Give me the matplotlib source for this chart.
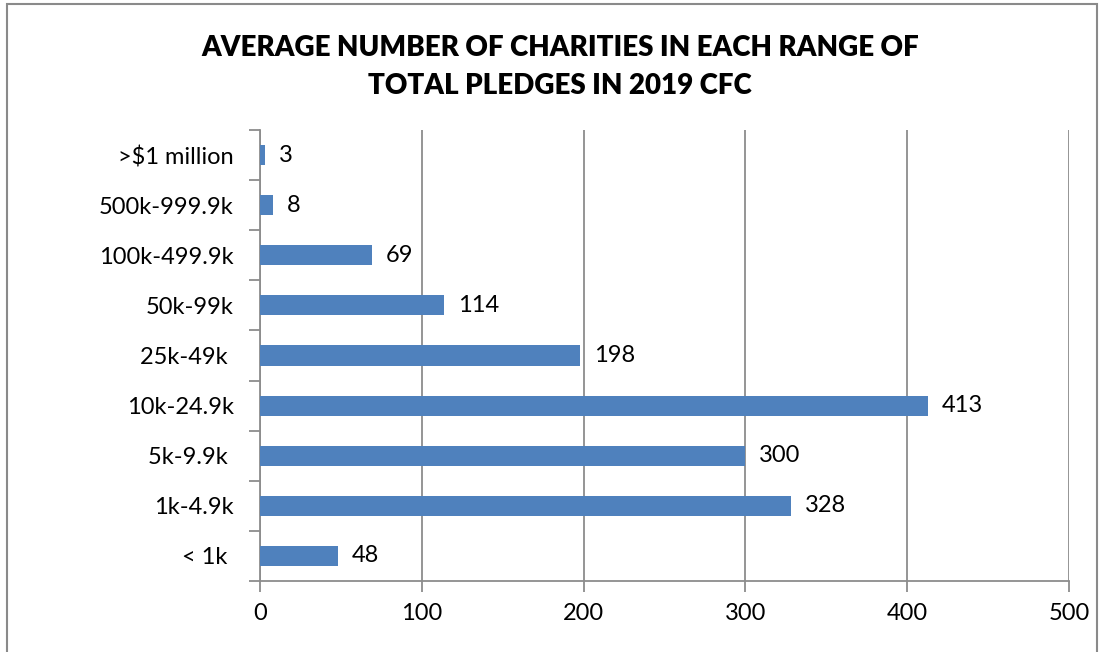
import matplotlib
matplotlib.use("Agg")
import matplotlib.pyplot as plt
from matplotlib.patches import Rectangle

categories = ["< 1k ", "1k-4.9k", "5k-9.9k ", "10k-24.9k", "25k-49k ", "50k-99k",
              "100k-499.9k", "500k-999.9k", ">$1 million"]
values = [48, 328, 300, 413, 198, 114, 69, 8, 3]
xticks = [0, 100, 200, 300, 400, 500]
title = "AVERAGE NUMBER OF CHARITIES IN EACH RANGE OF\nTOTAL PLEDGES IN 2019 CFC"

plt.rcParams['font.family'] = ['Lato', 'DejaVu Sans']

W, H = 1104, 652
fig = plt.figure(figsize=(W/100, H/100), dpi=100)
ax = fig.add_axes([260/W, 1-581/H, (1069-260)/W, (581-130)/H])

grid_col = "#8c8c8c"
fs = 17
ypos = list(range(len(categories)))
ax.barh(ypos, values, height=0.4, color="#4F81BD", zorder=3)
for y, v in zip(ypos, values):
    ax.annotate(str(v), (v, y), xytext=(10, 0), textcoords="offset points",
                va="center", ha="left", fontsize=fs, color="black")

ax.set_xlim(0, 500)
ax.set_ylim(-0.5, len(categories)-0.5)
ax.set_xticks(xticks)
ax.set_xticklabels([str(t) for t in xticks], fontsize=fs)
ax.set_yticks(ypos)
ax.set_yticklabels(categories, fontsize=fs)
ax.tick_params(axis='y', length=0, pad=19)
ax.set_yticks([i - 0.5 for i in range(len(categories)+1)], minor=True)
ax.tick_params(axis='y', which='minor', length=8, color=grid_col, width=1.3, direction='out')
ax.tick_params(axis='x', length=8, color=grid_col, width=1.3, direction='out', pad=8)
ax.grid(axis='x', color=grid_col, linewidth=1.3, zorder=0)
for s in ["top", "right"]:
    ax.spines[s].set_visible(False)
for s in ["left", "bottom"]:
    ax.spines[s].set_color(grid_col)
    ax.spines[s].set_linewidth(1.3)

fig.text(560/W, 1-67/H, title, ha="center", va="center", fontsize=20,
         fontweight="heavy", linespacing=1.6)

fig.patches.append(Rectangle((7/W, -0.05), (1097-7)/W, 1-4/H+0.05, transform=fig.transFigure,
                             fill=False, edgecolor="#8a8a8a", linewidth=1.5))

fig.savefig("out.png", dpi=100)
